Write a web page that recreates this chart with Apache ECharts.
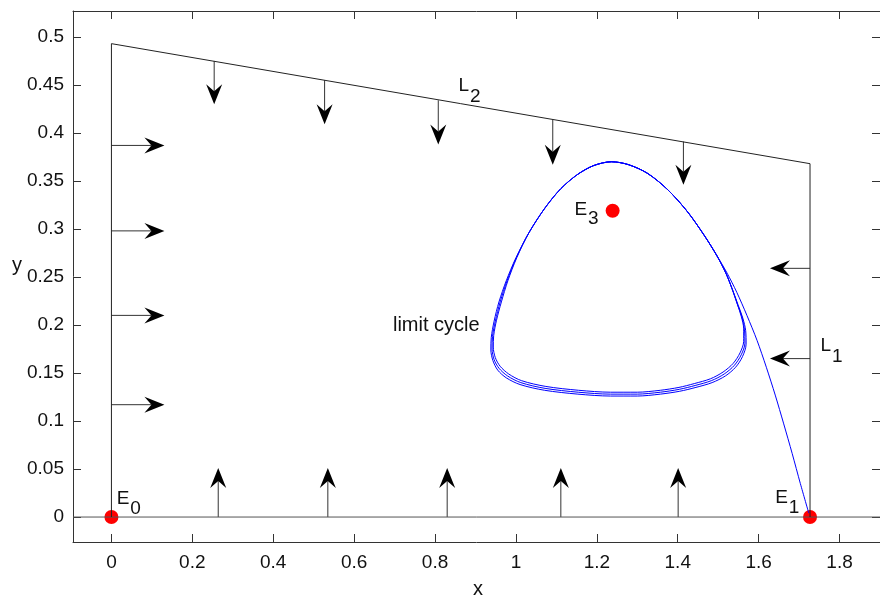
<!DOCTYPE html>
<html>
<head>
<meta charset="utf-8">
<script src="https://cdn.jsdelivr.net/npm/echarts@6/dist/echarts.min.js"></script>
<style>
  html, body { margin: 0; padding: 0; background: #fff; }
  #chart { width: 880px; height: 598px; }
</style>
</head>
<body>
<div id="chart"></div>
<script>
// axis ticks
const xTicks = [0, 0.2, 0.4, 0.6, 0.8, 1, 1.2, 1.4, 1.6, 1.8];
const yTicks = [0, 0.05, 0.1, 0.15, 0.2, 0.25, 0.3, 0.35, 0.4, 0.45, 0.5];

// region boundary: x = 0, L2, L1
const boundary = [[0, 0], [0, 0.493], [1.727, 0.368], [1.727, 0]];
const zeroLine = [[-0.095, 0], [1.9, 0]];

// equilibria E0, E1, E3
const equilibria = [[0, 0], [1.727, 0], [1.239, 0.319]];

// arrows: [xStart, yStart, xEnd, yEnd]
const downArrows = [
  [0.254, 0.475, 0.254, 0.430],
  [0.527, 0.455, 0.527, 0.409],
  [0.808, 0.434, 0.808, 0.388],
  [1.091, 0.414, 1.091, 0.367],
  [1.414, 0.391, 1.414, 0.346]
];
const upArrows = [
  [0.264, 0, 0.264, 0.051],
  [0.535, 0, 0.535, 0.051],
  [0.830, 0, 0.830, 0.051],
  [1.111, 0, 1.111, 0.051],
  [1.401, 0, 1.401, 0.051]
];
const rightArrows = [
  [0, 0.387, 0.131, 0.387],
  [0, 0.298, 0.131, 0.298],
  [0, 0.210, 0.131, 0.210],
  [0, 0.117, 0.131, 0.117]
];
const leftArrows = [
  [1.727, 0.259, 1.628, 0.259],
  [1.727, 0.165, 1.628, 0.165]
];

// trajectory from near E1 winding onto the limit cycle
const approachPath = [
  [1.724, 0.004], [1.703, 0.035], [1.683, 0.066], [1.662, 0.097], [1.641, 0.127],
  [1.619, 0.156], [1.596, 0.184], [1.571, 0.210], [1.546, 0.234], [1.522, 0.254],
  [1.497, 0.272]
];
const loopOuter = [
  [1.466, 0.293], [1.424, 0.318], [1.375, 0.341], [1.325, 0.358], [1.278, 0.367],
  [1.236, 0.370], [1.192, 0.366], [1.153, 0.357], [1.111, 0.342], [1.072, 0.322],
  [1.032, 0.296], [1.000, 0.270], [0.976, 0.246], [0.958, 0.224], [0.946, 0.204],
  [0.939, 0.187], [0.938, 0.174], [0.943, 0.163], [0.955, 0.153], [0.976, 0.145],
  [1.010, 0.138], [1.071, 0.132], [1.153, 0.128], [1.234, 0.126], [1.300, 0.126],
  [1.357, 0.128], [1.405, 0.131], [1.445, 0.135], [1.485, 0.140], [1.518, 0.147],
  [1.543, 0.156], [1.560, 0.167], [1.569, 0.180], [1.568, 0.194], [1.561, 0.207],
  [1.550, 0.220], [1.536, 0.236], [1.520, 0.253], [1.497, 0.272]
];
const loopMiddle = [
  [1.466, 0.293], [1.424, 0.318], [1.375, 0.341], [1.325, 0.358], [1.278, 0.367],
  [1.236, 0.370], [1.192, 0.366], [1.153, 0.357], [1.111, 0.342], [1.072, 0.322],
  [1.032, 0.296], [1.001, 0.270], [0.978, 0.246], [0.961, 0.224], [0.949, 0.204],
  [0.942, 0.188], [0.941, 0.175], [0.946, 0.164], [0.958, 0.155], [0.979, 0.147],
  [1.012, 0.140], [1.072, 0.134], [1.154, 0.130], [1.234, 0.128], [1.300, 0.128],
  [1.357, 0.130], [1.404, 0.133], [1.443, 0.137], [1.483, 0.142], [1.515, 0.149],
  [1.540, 0.158], [1.557, 0.169], [1.566, 0.181], [1.565, 0.195], [1.559, 0.208],
  [1.548, 0.221], [1.535, 0.237], [1.519, 0.254], [1.497, 0.272]
];
const loopInner = [
  [1.466, 0.293], [1.424, 0.318], [1.375, 0.341], [1.325, 0.358], [1.278, 0.367],
  [1.236, 0.370], [1.192, 0.366], [1.153, 0.357], [1.111, 0.342], [1.072, 0.322],
  [1.032, 0.296], [1.002, 0.270], [0.980, 0.246], [0.964, 0.224], [0.952, 0.205],
  [0.945, 0.189], [0.944, 0.177], [0.949, 0.166], [0.961, 0.157], [0.982, 0.149],
  [1.014, 0.142], [1.074, 0.136], [1.155, 0.132], [1.234, 0.130], [1.300, 0.130],
  [1.357, 0.132], [1.403, 0.135], [1.441, 0.139], [1.481, 0.144], [1.512, 0.151],
  [1.537, 0.160], [1.554, 0.171], [1.563, 0.183], [1.563, 0.196], [1.557, 0.209],
  [1.547, 0.222], [1.534, 0.238], [1.519, 0.254], [1.497, 0.272],
  [1.466, 0.293], [1.424, 0.318], [1.375, 0.341], [1.325, 0.358], [1.278, 0.367],
  [1.236, 0.370], [1.192, 0.366], [1.153, 0.357]
];

// annotations: main text, subscript, anchor (data coords, left/middle of text)
const labelTexts = ['E', 'E', 'E', 'L', 'L', 'limit cycle'];
const labelSubs = ['0', '1', '3', '2', '1', ''];
const labelAnchors = [[0.013, 0.019], [1.641, 0.020], [1.145, 0.320], [0.858, 0.4495], [1.753, 0.178], [0.696, 0.199]];

const X_MIN = -0.095, X_MAX = 1.9;
const Y_MIN = -0.026, Y_MAX = 0.527;
const FONT = '"Liberation Sans", Arial, sans-serif';
const FRAME = '#333';

const chart = echarts.init(document.getElementById('chart'));

function xAxisOf(position, labels) {
  return {
    type: 'value',
    position,
    min: X_MIN,
    max: X_MAX,
    axisLine: { show: true, onZero: false, lineStyle: { color: FRAME, width: 1 } },
    axisTick: { show: true, inside: true, length: 8, customValues: xTicks, lineStyle: { color: FRAME } },
    axisLabel: { show: labels, customValues: xTicks, margin: 11, color: '#111', fontSize: 19, fontFamily: FONT },
    splitLine: { show: false }
  }
}

function yAxisOf(position, labels) {
  return {
    type: 'value',
    position,
    min: Y_MIN,
    max: Y_MAX,
    axisLine: { show: true, onZero: false, lineStyle: { color: FRAME, width: 1 } },
    axisTick: { show: true, inside: true, length: 8, customValues: yTicks, lineStyle: { color: FRAME } },
    axisLabel: { show: labels, customValues: yTicks, margin: 9, color: '#111', fontSize: 19, fontFamily: FONT },
    splitLine: { show: false }
  }
}

function renderArrow(params, api) {
  const p1 = api.coord([api.value(0), api.value(1)])
  const p2 = api.coord([api.value(2), api.value(3)])
  const len = Math.hypot(p2[0] - p1[0], p2[1] - p1[1])
  const dx = (p2[0] - p1[0]) / len
  const dy = (p2[1] - p1[1]) / len
  const L = 20, hw = 8
  const back = [p2[0] - dx * L, p2[1] - dy * L]
  const notch = [p2[0] - dx * L * 0.65, p2[1] - dy * L * 0.65]
  return {
    type: 'group',
    children: [
      {
        type: 'line',
        shape: { x1: p1[0], y1: p1[1], x2: notch[0], y2: notch[1] },
        style: { stroke: '#333', lineWidth: 1 }
      },
      {
        type: 'polygon',
        shape: {
          points: [
            p2,
            [back[0] - dy * hw, back[1] + dx * hw],
            notch,
            [back[0] + dy * hw, back[1] - dx * hw]
          ]
        },
        style: { fill: '#000' }
      }
    ]
  }
}

const trajectory = [].concat(approachPath, loopOuter, loopMiddle, loopInner)
const arrows = [].concat(downArrows, upArrows, rightArrows, leftArrows)

chart.setOption({
  animation: false,
  backgroundColor: '#fff',
  grid: { left: 73, right: -3, top: 11, bottom: 56 },
  xAxis: [xAxisOf('bottom', true), xAxisOf('top', false)],
  yAxis: [yAxisOf('left', true), yAxisOf('right', false)],
  series: [
    {
      type: 'line',
      data: zeroLine,
      symbol: 'none',
      silent: true,
      lineStyle: { color: '#555', width: 1 }
    },
    {
      type: 'line',
      data: boundary,
      symbol: 'none',
      silent: true,
      lineStyle: { color: '#222', width: 1 }
    },
    {
      type: 'line',
      data: trajectory,
      symbol: 'none',
      smooth: 0.3,
      silent: true,
      lineStyle: { color: '#0000ff', width: 1 }
    },
    {
      type: 'custom',
      data: arrows,
      encode: { x: [0, 2], y: [1, 3] },
      renderItem: renderArrow,
      silent: true
    },
    {
      type: 'scatter',
      data: equilibria,
      symbolSize: 14,
      silent: true,
      itemStyle: { color: '#ff0000', opacity: 1 }
    }
  ]
})

function placeLabels() {
  const items = []
  labelAnchors.forEach((a, i) => {
    const p = chart.convertToPixel({ xAxisIndex: 0, yAxisIndex: 0 }, a)
    const size = labelSubs[i] ? 19 : 20
    items.push({
      type: 'text',
      x: p[0], y: p[1],
      style: { text: labelTexts[i], font: size + 'px ' + FONT, fill: '#111', align: 'left', verticalAlign: 'middle' }
    })
    if (labelSubs[i]) {
      const isE = labelTexts[i] === 'E'
      items.push({
        type: 'text',
        x: p[0] + (isE ? 13.5 : 11.5), y: p[1] + (isE ? 9.5 : 11),
        style: { text: labelSubs[i], font: '19px ' + FONT, fill: '#111', align: 'left', verticalAlign: 'middle' }
      })
    }
  })
  items.push({
    type: 'text', x: 478, y: 589,
    style: { text: 'x', font: '20px ' + FONT, fill: '#111', align: 'center', verticalAlign: 'middle' }
  })
  items.push({
    type: 'text', x: 17, y: 265,
    style: { text: 'y', font: '20px ' + FONT, fill: '#111', align: 'center', verticalAlign: 'middle' }
  })
  chart.setOption({ graphic: items })
}

placeLabels()
</script>
</body>
</html>
